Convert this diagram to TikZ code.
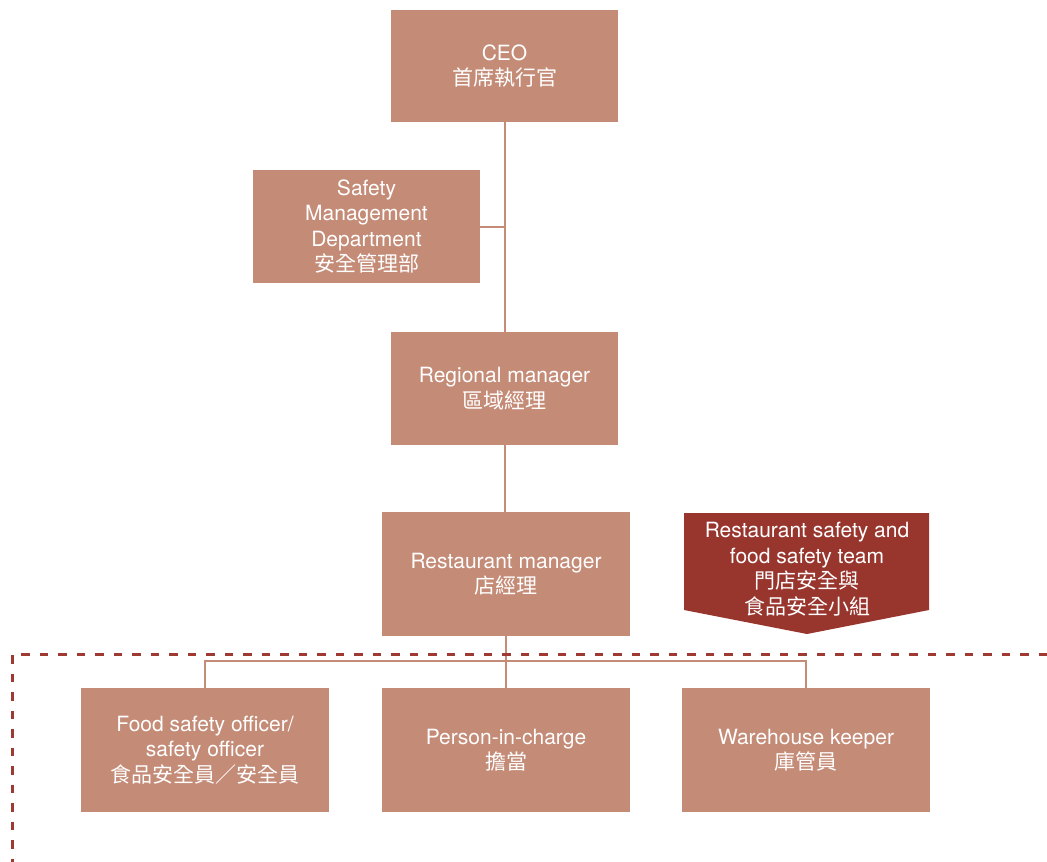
\documentclass[tikz,border=0pt]{standalone}
\usepackage{fontspec}
\setmainfont{TeX Gyre Heros}
\newfontfamily\cjk{Noto Sans CJK TC}
\definecolor{boxfill}{HTML}{C48B77}
\definecolor{teamred}{HTML}{98362E}
\definecolor{dashred}{HTML}{9E3A31}
\begin{document}
\begin{tikzpicture}[x=1pt,y=-1pt,
  orgbox/.style={rectangle, fill=boxfill, text=white, align=center, inner sep=0pt,
    font=\fontsize{21}{25.5}\selectfont},
  link/.style={draw=boxfill, line width=2pt}]
\useasboundingbox[fill=white] (0,0) rectangle (1047,862);
\node[orgbox, minimum width=227pt, minimum height=112pt] (ceo) at (504.5,66) {CEO\\{\cjk 首席執行官}};
\node[orgbox, minimum width=227pt, minimum height=113pt] (smd) at (366.5,226.5) {Safety\\Management\\Department\\{\cjk 安全管理部}};
\node[orgbox, minimum width=227pt, minimum height=113pt] (reg) at (504.5,388.5) {Regional manager\\{\cjk 區域經理}};
\node[orgbox, minimum width=248pt, minimum height=124pt] (rm) at (506,574) {Restaurant manager\\{\cjk 店經理}};
\node[orgbox, minimum width=248pt, minimum height=124pt] (fso) at (205,750) {Food safety officer/\\safety officer\\{\cjk 食品安全員／安全員}};
\node[orgbox, minimum width=248pt, minimum height=124pt] (pic) at (506,750) {Person-in-charge\\{\cjk 擔當}};
\node[orgbox, minimum width=248pt, minimum height=124pt] (wk) at (806,750) {Warehouse keeper\\{\cjk 庫管員}};
% team pentagon
\fill[teamred] (684,513) -- (929,513) -- (929,610) -- (807,634) -- (684,610) -- cycle;
\node[text=white, align=center, inner sep=0pt, font=\fontsize{21}{25.5}\selectfont] (team) at (807,569)
  {Restaurant safety and\\food safety team\\{\cjk 門店安全與}\\{\cjk 食品安全小組}};
% connectors
\coordinate (bus) at (506,661);
\draw[link] (ceo.south) -- (reg.north);
\draw[link] (smd.east) -- (smd.east -| ceo.south);
\draw[link] (reg.south) -- (reg.south |- rm.north);
\draw[link] (rm.south) -- (pic.north);
\draw[link] (fso.north) |- (bus) -| (wk.north);
% dashed boundary
\coordinate (dtr) at (1047,654);
\coordinate (dtl) at (12,654);
\coordinate (dbl) at (12,862);
\draw[dashred, line width=3pt, dash pattern=on 8.5pt off 10pt] (dtr) -- (dtl) -- (dbl);
\end{tikzpicture}
\end{document}
